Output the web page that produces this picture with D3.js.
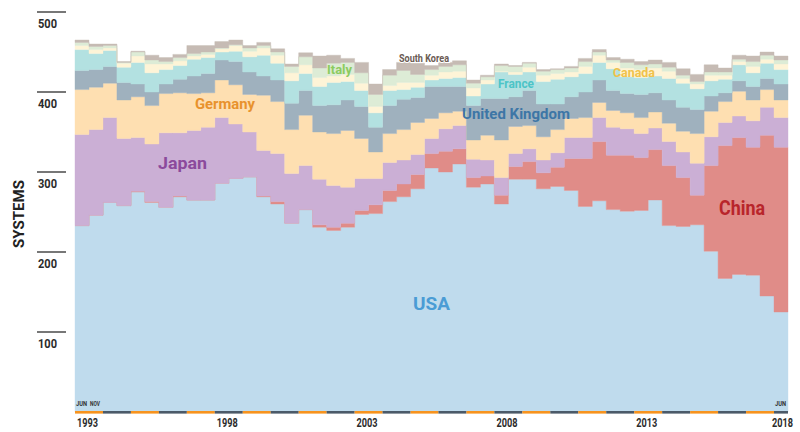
<!DOCTYPE html>
<html><head><meta charset="utf-8">
<script src="https://cdn.jsdelivr.net/npm/d3@7"></script>
<style>
html,body{margin:0;padding:0;background:#fff;}
svg{display:block;font-family:Roboto,"DejaVu Sans",sans-serif;}
</style></head>
<body><svg id="c" width="800" height="432"></svg>
<script>
// TOP500 lists: June & November, 1993 .. June 2018 (51 lists)
const yearLabels = ["1993","1998","2003","2008","2013","2018"];
const yTicks = [100,200,300,400,500];
const countries = ["USA","China","Japan","Germany","United Kingdom","France","Canada","Italy","South Korea"];

const usa     = [233,246,262,258,275,262,256,269,265,265,286,292,294,269,260,236,253,231,227,231,247,248,263,269,279,305,300,310,281,285,260,291,291,279,282,277,257,264,253,251,252,265,233,232,234,201,167,172,171,145,125];
const china   = [0,0,0,0,1,1,0,1,0,0,0,0,0,1,3,0,0,3,4,5,5,11,14,16,18,18,26,19,12,10,11,16,22,20,24,40,60,74,68,70,66,63,75,61,37,107,166,171,160,201,206];
const japan   = [114,107,106,84,67,72,93,79,87,91,82,68,56,57,60,62,55,57,52,45,40,33,35,30,25,19,28,29,23,20,22,16,16,16,18,26,26,30,35,33,30,27,30,32,40,36,29,27,33,35,37];
const germany = [56,53,43,48,51,48,49,50,46,43,47,49,47,69,65,55,63,59,65,71,50,33,36,38,40,25,20,18,24,31,47,34,29,29,29,24,25,19,21,20,20,20,23,26,37,32,26,31,26,22,22];
const uk      = [24,22,21,22,16,17,12,17,22,24,25,29,28,24,27,33,31,33,36,38,40,31,35,38,31,40,33,31,43,46,52,37,44,41,32,27,32,28,25,24,29,24,29,30,30,19,11,13,17,14,20];
const france  = [26,20,20,19,27,24,18,17,21,20,10,13,19,26,21,28,21,24,28,23,20,18,19,12,13,8,10,11,12,18,33,28,23,28,31,25,23,22,27,21,21,21,27,30,26,19,17,20,17,19,18];
const canada  = [5,5,3,5,8,11,7,6,4,4,4,7,7,9,10,10,11,11,8,9,9,8,6,9,6,6,8,8,10,5,1,3,6,8,7,6,9,9,8,11,10,10,9,6,6,7,5,4,8,5,7];
const italy   = [4,4,3,1,5,5,3,4,3,3,1,1,4,3,4,8,10,12,16,15,13,15,13,15,10,7,7,8,6,4,7,7,5,5,5,5,6,4,3,7,6,5,5,4,3,4,4,3,6,5,5];
const korea   = [3,3,2,1,1,6,5,4,10,8,8,6,3,4,4,3,5,15,10,5,13,13,7,10,14,5,5,5,4,2,2,1,1,2,1,2,4,3,3,4,4,5,6,8,9,9,5,5,7,4,5];

const seriesValues = [usa,china,japan,germany,uk,france,canada,italy,korea];
const fills  = ["#bfdbed","#e08c88","#cbafd5","#fedfb1","#9fb1be","#b3e1e1","#fef4d7","#ddecd6","#c6bbb4"];
const labelColors = ["#4a9cd5","#b8252b","#8b4a9c","#e8922d","#3d76a6","#4cc4c7","#f0c24a","#8ccb5e","#6b5b53"];

const n = usa.length;
const rows = d3.range(n + 1).map(i => {
  const j = Math.min(i, n - 1);
  const r = {i};
  countries.forEach((c, k) => r[c] = seriesValues[k][j]);
  return r;
});

const svg = d3.select("#c");
const x = d3.scaleLinear().domain([0, n]).range([75, 788]);
const y = d3.scaleLinear().domain([0, 500]).range([412, 12]);

const stacked = d3.stack().keys(countries)(rows);
const area = d3.area()
  .x(d => x(d.data.i)).y0(d => y(d[0])).y1(d => y(d[1]))
  .curve(d3.curveStepAfter);

svg.append("g").selectAll("path").data(stacked).join("path")
  .attr("d", area).attr("fill", (d, k) => fills[k])
  .attr("stroke", (d, k) => fills[k]).attr("stroke-width", 0.4);

// y axis ticks
const ya = svg.append("g");
yTicks.forEach(v => {
  ya.append("line").attr("x1", 37).attr("x2", 66).attr("y1", y(v)).attr("y2", y(v))
    .attr("stroke", "#555").attr("stroke-width", 1.6);
  ya.append("text").attr("x", 38).attr("y", y(v) + 16).text(v)
    .attr("font-size", 12.5).attr("font-weight", "bold").attr("fill", "#2b2b2b")
    .attr("textLength", 19).attr("lengthAdjust", "spacingAndGlyphs");
});
svg.append("text").attr("transform", "translate(24,214) rotate(-90)")
  .attr("text-anchor", "middle").attr("font-size", 15).attr("font-weight", "bold")
  .attr("fill", "#222").text("SYSTEMS");

// bottom axis bar: alternating year segments
const xa = svg.append("g");
d3.range(0, n, 2).forEach((s, k) => {
  const x0 = x(s), x1 = x(Math.min(s + 2, n));
  xa.append("rect").attr("x", x0).attr("y", 411).attr("width", x1 - x0).attr("height", 2.6)
    .attr("fill", k % 2 ? "#4b5a69" : "#f7931e");
});
yearLabels.forEach((t, k) => {
  const last = k === yearLabels.length - 1;
  xa.append("text").attr("x", last ? 793 : x(k * 10) + 2).attr("y", 427)
    .attr("text-anchor", last ? "end" : "start")
    .attr("font-size", 12).attr("font-weight", "bold").attr("fill", "#2b2b2b")
    .attr("textLength", 21).attr("lengthAdjust", "spacingAndGlyphs").text(t);
});
const small = (t, xx, w) => svg.append("text").attr("x", xx).attr("y", 406)
  .attr("font-size", 7).attr("font-weight", "bold").attr("fill", "#333")
  .attr("textLength", w).attr("lengthAdjust", "spacingAndGlyphs").text(t);
small("JUN", 76, 11); small("NOV", 90, 10); small("JUN", 775, 11);

// country labels
const labels = [
  {k:0, t:"USA", x:413, y:310, s:18, w:37},
  {k:1, t:"China", x:719, y:215, s:20, w:46},
  {k:2, t:"Japan", x:158, y:169, s:17, w:49},
  {k:3, t:"Germany", x:195, y:109, s:14, w:60},
  {k:4, t:"United Kingdom", x:462, y:119, s:14, w:108},
  {k:5, t:"France", x:498, y:88, s:12.5, w:36},
  {k:6, t:"Canada", x:613, y:77, s:12.5, w:42},
  {k:7, t:"Italy", x:327, y:74, s:13, w:25},
  {k:8, t:"South Korea", x:399, y:62, s:10.5, w:50}
];
svg.append("g").selectAll("text").data(labels).join("text")
  .attr("x", d => d.x).attr("y", d => d.y).attr("font-size", d => d.s)
  .attr("font-weight", "bold").attr("fill", d => labelColors[d.k])
  .attr("textLength", d => d.w).attr("lengthAdjust", "spacingAndGlyphs")
  .attr("stroke", d => d.k === 8 ? "#fff" : "none").attr("stroke-width", d => d.k === 8 ? 2 : 0)
  .attr("paint-order", "stroke")
  .text(d => d.t);
</script></body></html>
